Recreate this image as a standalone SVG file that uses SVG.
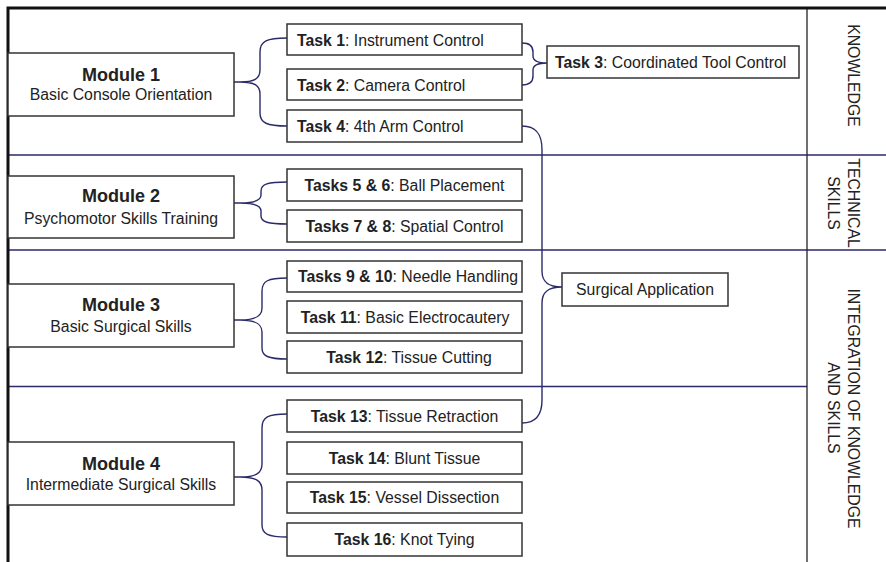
<svg xmlns="http://www.w3.org/2000/svg" width="886" height="562" viewBox="0 0 886 562">
  <style>
    text { font-family: "Liberation Sans", Arial, sans-serif; fill: #222; }
    .t { font-size: 15.8px; }
    .c { text-anchor: middle; }
    .b { font-weight: bold; }
    .mt { font-size: 18px; font-weight: bold; text-anchor: middle; }
    .box { fill: #fff; stroke: #333; stroke-width: 1.5; }
    .sep { stroke: #2b2a6b; stroke-width: 1.3; fill: none; }
    .frame { stroke: #111; stroke-width: 3; fill: none; }
    .col { stroke: #222; stroke-width: 1.3; fill: none; }
    .brace { stroke: #2b2a6b; stroke-width: 1.4; fill: none; }
  </style>

  <rect width="886" height="562" fill="#fff"/>

  <!-- frame, column divider and row separators -->
  <g id="grid">
    <path class="sep" d="M8 155 H886 M8 250 H886 M8 386.5 H807"/>
    <path class="col" d="M807 8 V562"/>
    <path class="frame" d="M8 8 H886 M8 6.5 V562"/>
  </g>

  <!-- connectors -->
  <g id="connectors">
    <!-- Module 1 -> Task 1 / Task 4 -->
    <path class="brace" d="M287 38 C267 38 260 41 260 52 L260 70 C260 79 254 82 240 82 L234 82 M240 82 C254 82 260 85 260 94 L260 113 C260 123 267 126 287 126"/>
    <!-- Module 2 -> Tasks 5-8 -->
    <path class="brace" d="M287 182 C268 182 261 184 261 191 L261 195 C261 200 255 203 240 203 L234 203 M240 203 C255 203 261 206 261 211 L261 216 C261 222 268 224 287 224"/>
    <!-- Module 3 -> Tasks 9-12 -->
    <path class="brace" d="M287 278 C268 278 262 281 262 291 L262 308 C262 316 256 320 240 320 L234 320 M240 320 C256 320 262 324 262 332 L262 348 C262 356 268 359 287 359"/>
    <!-- Module 4 -> Tasks 13-16 -->
    <path class="brace" d="M287 414 C268 414 262 417 262 428 L262 464 C262 473 256 477 240 477 L234 477 M240 477 C256 477 262 481 262 490 L262 525 C262 534 268 537 287 537"/>
    <!-- Task 1 + Task 2 -> Task 3 -->
    <path class="brace" d="M522 43 C530 43 533 46 533 52 L533 56 C533 61 538 63 547 63 M522 85 C530 85 533 82 533 76 L533 70 C533 65 538 63 547 63"/>
    <!-- Task 4 + Task 13 -> Surgical Application -->
    <path class="brace" d="M522 126 C537 126 542 135 542 150 L542 271 C542 282 548 287 562 287 M522 423 C537 423 542 414 542 400 L542 303 C542 292 548 287 562 287"/>
  </g>

  <!-- modules -->
  <g id="module1">
    <rect class="box" x="8" y="53" width="226" height="63"/>
    <text class="mt" x="121" y="81">Module 1</text>
    <text class="t c" x="121" y="100">Basic Console Orientation</text>
  </g>
  <g id="module2">
    <rect class="box" x="8" y="176" width="226" height="62"/>
    <text class="mt" x="121" y="202">Module 2</text>
    <text class="t c" x="121" y="224">Psychomotor Skills Training</text>
  </g>
  <g id="module3">
    <rect class="box" x="8" y="284" width="226" height="63"/>
    <text class="mt" x="121" y="311">Module 3</text>
    <text class="t c" x="121" y="332">Basic Surgical Skills</text>
  </g>
  <g id="module4">
    <rect class="box" x="8" y="442" width="226" height="63"/>
    <text class="mt" x="121" y="470">Module 4</text>
    <text class="t c" x="121" y="490">Intermediate Surgical Skills</text>
  </g>

  <!-- tasks -->
  <g id="task1">
    <rect class="box" x="287" y="24" width="235" height="31"/>
    <text class="t" x="297" y="45.5"><tspan class="b">Task 1</tspan>: Instrument Control</text>
  </g>
  <g id="task2">
    <rect class="box" x="287" y="69" width="235" height="31"/>
    <text class="t" x="297" y="90.5"><tspan class="b">Task 2</tspan>: Camera Control</text>
  </g>
  <g id="task3">
    <rect class="box" x="547" y="46" width="252" height="32"/>
    <text class="t" x="555" y="67.7"><tspan class="b">Task 3</tspan>: Coordinated Tool Control</text>
  </g>
  <g id="task4">
    <rect class="box" x="287" y="110" width="235" height="32"/>
    <text class="t" x="297" y="131.7"><tspan class="b">Task 4</tspan>: 4th Arm Control</text>
  </g>
  <g id="tasks5-6">
    <rect class="box" x="287" y="169" width="235" height="32"/>
    <text class="t c" x="404.5" y="190.7"><tspan class="b">Tasks 5 &amp; 6</tspan>: Ball Placement</text>
  </g>
  <g id="tasks7-8">
    <rect class="box" x="287" y="210" width="235" height="32"/>
    <text class="t c" x="404.5" y="231.7"><tspan class="b">Tasks 7 &amp; 8</tspan>: Spatial Control</text>
  </g>
  <g id="tasks9-10">
    <rect class="box" x="287" y="261" width="235" height="31"/>
    <text class="t c" x="408" y="282.2"><tspan class="b">Tasks 9 &amp; 10</tspan>: Needle Handling</text>
  </g>
  <g id="task11">
    <rect class="box" x="287" y="301" width="235" height="32"/>
    <text class="t c" x="405" y="322.7"><tspan class="b">Task 11</tspan>: Basic Electrocautery</text>
  </g>
  <g id="task12">
    <rect class="box" x="287" y="341" width="235" height="32"/>
    <text class="t c" x="409" y="362.7"><tspan class="b">Task 12</tspan>: Tissue Cutting</text>
  </g>
  <g id="task13">
    <rect class="box" x="287" y="400" width="235" height="32"/>
    <text class="t c" x="404.5" y="421.7"><tspan class="b">Task 13</tspan>: Tissue Retraction</text>
  </g>
  <g id="task14">
    <rect class="box" x="287" y="442" width="235" height="32"/>
    <text class="t c" x="404.5" y="463.7"><tspan class="b">Task 14</tspan>: Blunt Tissue</text>
  </g>
  <g id="task15">
    <rect class="box" x="287" y="482" width="235" height="31"/>
    <text class="t c" x="404.5" y="503.2"><tspan class="b">Task 15</tspan>: Vessel Dissection</text>
  </g>
  <g id="task16">
    <rect class="box" x="287" y="523" width="235" height="33"/>
    <text class="t c" x="404.5" y="545.2"><tspan class="b">Task 16</tspan>: Knot Tying</text>
  </g>
  <g id="surgical-application">
    <rect class="box" x="562" y="273" width="166" height="33"/>
    <text class="t c" x="645" y="295">Surgical Application</text>
  </g>

  <!-- column labels -->
  <g id="label-knowledge">
    <text class="t c" transform="translate(848 75.5) rotate(90)">KNOWLEDGE</text>
  </g>
  <g id="label-technical">
    <text class="t c" transform="translate(848 203) rotate(90)">TECHNICAL</text>
    <text class="t c" transform="translate(828 203) rotate(90)">SKILLS</text>
  </g>
  <g id="label-integration">
    <text class="t c" transform="translate(848 408.5) rotate(90)">INTEGRATION OF KNOWLEDGE</text>
    <text class="t c" transform="translate(828 408) rotate(90)">AND SKILLS</text>
  </g>
</svg>
